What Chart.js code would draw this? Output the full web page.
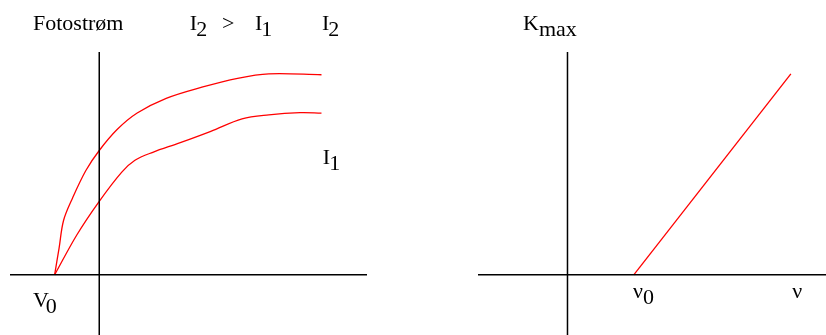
<!DOCTYPE html>
<html>
<head>
<meta charset="utf-8">
<script src="https://cdn.jsdelivr.net/npm/chart.js@4.4.1/dist/chart.umd.min.js"></script>
<style>
  html, body { margin: 0; padding: 0; background: #fff; }
  #wrap { position: relative; width: 826px; height: 335px; }
  #wrap canvas { position: absolute; top: 0; }
  #photo { left: 0; }
  #kmax { left: 413px; }
</style>
</head>
<body>
<div id="wrap">
  <canvas id="photo" width="413" height="335"></canvas>
  <canvas id="kmax" width="413" height="335"></canvas>
</div>
<script>
// Left panel: photocurrent vs voltage (V0 = -1)
const voltageI2 = [-1, -0.9, -0.8, -0.6, -0.3, 0, 0.4, 0.85, 1.5, 2.3, 3.1, 3.8, 4.98];
const currentI2 = [0, 0.6, 1.22, 1.72, 2.34, 2.79, 3.26, 3.63, 3.96, 4.21, 4.41, 4.51, 4.49];
const voltageI1 = [-1, -0.5, 0, 0.5, 0.8, 1.2, 1.8, 2.5, 3.2, 3.8, 4.5, 4.98];
const currentI1 = [0, 0.9, 1.65, 2.3, 2.57, 2.75, 2.96, 3.22, 3.5, 3.59, 3.64, 3.63];

// Right panel: K_max vs frequency (nu0 = 1)
const frequency = [1, 3.37];
const kineticMax = [0, 4.51];

// Axis extents
const leftX = [-2, 6];
const rightX = [-1.35, 3.9];
const yRange = [-1.35, 5];

const RED = '#ff0000';
const FONT = '22px "Liberation Serif", "Times New Roman", serif';

function toPoints(xs, ys) {
    return xs.map((x, i) => ({ x: x, y: ys[i] }));
}

function axisSets(xr, yr) {
    const base = { borderColor: '#000', borderWidth: 1.5, pointRadius: 0, showLine: true };
    return [
        Object.assign({ data: [{ x: xr[0], y: 0 }, { x: xr[1], y: 0 }] }, base),
        Object.assign({ data: [{ x: 0, y: yr[0] }, { x: 0, y: yr[1] }] }, base)
    ];
}

// Draws text labels (with same-size subscript) at data coordinates
const labelPlugin = {
    id: 'labels',
    afterDatasetsDraw(chart, args, opts) {
        const ctx = chart.ctx;
        ctx.save();
        ctx.font = FONT;
        ctx.fillStyle = '#000';
        ctx.textAlign = 'left';
        ctx.textBaseline = 'alphabetic';
        (opts.items || []).forEach(item => {
            const px = chart.scales.x.getPixelForValue(item.x);
            const py = chart.scales.y.getPixelForValue(item.y);
            ctx.fillText(item.text, px, py);
            if (item.sub) {
                const w = ctx.measureText(item.text).width;
                ctx.fillText(item.sub, px + w - (item.kern || 0), py + 6);
            }
        });
        ctx.restore();
    }
};

function makeChart(id, datasets, xr, padding, labels) {
    return new Chart(document.getElementById(id), {
        type: 'scatter',
        data: { datasets: datasets },
        options: {
            responsive: false,
            animation: false,
            devicePixelRatio: 1,
            layout: { padding: padding },
            scales: {
                x: { type: 'linear', min: xr[0], max: xr[1], display: false },
                y: { type: 'linear', min: yRange[0], max: yRange[1], display: false }
            },
            plugins: {
                legend: { display: false },
                tooltip: { enabled: false },
                labels: { items: labels }
            }
        },
        plugins: [labelPlugin]
    });
}

const curveStyle = {
    borderColor: RED,
    borderWidth: 1.3,
    pointRadius: 0,
    showLine: true,
    tension: 0.35
};

makeChart('photo',
    axisSets(leftX, yRange).concat([
        Object.assign({ label: 'I2', data: toPoints(voltageI2, currentI2) }, curveStyle),
        Object.assign({ label: 'I1', data: toPoints(voltageI1, currentI1) }, curveStyle)
    ]),
    leftX,
    { left: 10, right: 46, top: 52, bottom: 0 },
    [
        { x: -1.485, y: 5.5, text: 'Fotostrøm' },
        { x: 2.03, y: 5.5, text: 'I', sub: '2', kern: 1 },
        { x: 2.75, y: 5.5, text: '>' },
        { x: 3.49, y: 5.5, text: 'I', sub: '1', kern: 1 },
        { x: 4.99, y: 5.5, text: 'I', sub: '2', kern: 1 },
        { x: 5.01, y: 2.49, text: 'I', sub: '1', kern: 1 },
        { x: -1.485, y: -0.72, text: 'V', sub: '0', kern: 3 }
    ]
);

makeChart('kmax',
    axisSets(rightX, yRange).concat([
        Object.assign({ label: 'Kmax', data: toPoints(frequency, kineticMax) }, curveStyle)
    ]),
    rightX,
    { left: 65, right: 0, top: 52, bottom: 0 },
    [
        { x: -0.67, y: 5.5, text: 'K', sub: 'max' },
        { x: 0.99, y: -0.52, text: 'ν', sub: '0' },
        { x: 3.39, y: -0.52, text: 'ν' }
    ]
);
</script>
</body>
</html>
